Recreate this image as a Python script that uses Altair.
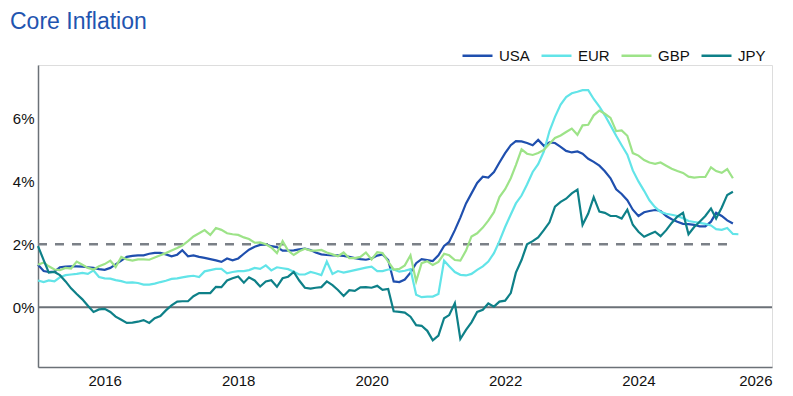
import altair as alt
import pandas as pd

# ---------------- data (monthly, starting Jan 2015) ----------------
start_month = "2015-01-01"
series_names = ["USA", "EUR", "GBP", "JPY"]
series_colors = ["#1f4fae", "#62e4e8", "#9de388", "#0e8088"]

usa = [1.35, 1.15, 1.12, 1.13, 1.27, 1.29, 1.30, 1.30, 1.29, 1.27, 1.25, 1.21,
       1.19, 1.25, 1.36, 1.48, 1.60, 1.63, 1.65, 1.65, 1.70, 1.73, 1.73, 1.68,
       1.62, 1.67, 1.81, 1.62, 1.65, 1.60, 1.57, 1.53, 1.49, 1.44, 1.55, 1.49,
       1.55, 1.70, 1.83, 1.92, 1.98, 2.00, 1.94, 1.91, 1.80, 1.80, 1.81, 1.84,
       1.86, 1.82, 1.74, 1.68, 1.66, 1.65, 1.65, 1.63, 1.60, 1.56, 1.53, 1.51,
       1.55, 1.64, 1.68, 1.50, 0.82, 0.80, 0.88, 1.10, 1.40, 1.53, 1.50, 1.47,
       1.65, 1.95, 2.08, 2.45, 2.85, 3.30, 3.62, 3.95, 4.15, 4.12, 4.30, 4.60,
       4.90, 5.15, 5.28, 5.27, 5.22, 5.15, 5.32, 5.13, 5.24, 5.22, 5.10, 4.97,
       4.92, 4.95, 4.88, 4.72, 4.62, 4.50, 4.32, 4.10, 3.75, 3.60, 3.40, 3.10,
       2.90, 3.02, 3.06, 3.09, 3.06, 2.90, 2.80, 2.72, 2.65, 2.64, 2.62, 2.57,
       2.57, 2.72, 3.00, 2.90, 2.76, 2.66]

eur = [0.85, 0.80, 0.85, 0.82, 0.95, 1.02, 1.04, 1.06, 1.09, 1.06, 1.17, 0.96,
       0.92, 0.91, 0.86, 0.83, 0.78, 0.79, 0.77, 0.72, 0.72, 0.75, 0.80, 0.84,
       0.90, 0.92, 0.95, 0.98, 1.00, 0.96, 1.14, 1.18, 1.22, 1.22, 1.08, 1.12,
       1.15, 1.15, 1.18, 1.25, 1.22, 1.33, 1.17, 1.27, 1.24, 1.21, 1.13, 1.04,
       1.04, 1.12, 1.08, 1.02, 1.45, 1.06, 1.15, 1.10, 1.14, 1.18, 1.22, 1.26,
       1.29, 1.15, 1.15, 1.20, 1.20, 1.13, 1.16, 1.21, 0.40, 0.32, 0.34, 0.34,
       0.42, 1.48, 1.30, 1.12, 1.03, 1.01, 1.06, 1.19, 1.30, 1.45, 1.72, 2.10,
       2.55, 2.95, 3.30, 3.55, 3.90, 4.30, 4.55, 4.95, 5.60, 6.05, 6.44, 6.68,
       6.80, 6.85, 6.90, 6.90, 6.62, 6.38, 6.10, 5.78, 5.45, 5.15, 4.85, 4.35,
       4.00, 3.70, 3.40, 3.18, 3.03, 2.97, 2.94, 2.90, 2.83, 2.74, 2.71, 2.68,
       2.65, 2.60, 2.48, 2.46, 2.52, 2.33, 2.32]

gbp = [1.35, 1.42, 1.30, 1.20, 1.18, 1.25, 1.23, 1.45, 1.35, 1.25, 1.20, 1.30,
       1.37, 1.48, 1.28, 1.60, 1.52, 1.48, 1.52, 1.52, 1.51, 1.58, 1.65, 1.72,
       1.80, 1.88, 1.96, 2.10, 2.25, 2.35, 2.45, 2.30, 2.52, 2.46, 2.35, 2.32,
       2.30, 2.22, 2.17, 2.05, 2.06, 2.00, 1.90, 1.72, 2.10, 1.80, 1.66, 1.78,
       1.86, 1.80, 1.80, 1.82, 1.74, 1.68, 1.62, 1.74, 1.56, 1.56, 1.60, 1.74,
       1.52, 1.75, 1.72, 1.45, 1.20, 1.22, 1.33, 1.65, 0.82, 1.40, 1.46, 1.34,
       1.44, 1.70, 1.65, 1.50, 1.48, 1.80, 2.25, 2.35, 2.53, 2.75, 3.02, 3.50,
       3.75, 4.10, 4.52, 5.02, 4.88, 4.84, 4.90, 5.00, 5.20, 5.38, 5.46, 5.57,
       5.68, 5.48, 5.78, 5.80, 6.10, 6.25, 6.15, 6.02, 5.60, 5.62, 5.45, 4.90,
       4.82, 4.68, 4.60, 4.56, 4.60, 4.50, 4.40, 4.33, 4.27, 4.15, 4.12, 4.14,
       4.14, 4.45, 4.33, 4.27, 4.39, 4.10]

jpy = [1.94, 1.50, 1.10, 1.12, 1.02, 0.82, 0.60, 0.42, 0.25, 0.05, -0.15, -0.07,
       -0.05, -0.15, -0.30, -0.40, -0.50, -0.49, -0.46, -0.41, -0.50, -0.35, -0.28, -0.10,
       0.06, 0.18, 0.19, 0.19, 0.35, 0.45, 0.45, 0.45, 0.65, 0.64, 0.85, 0.92,
       0.98, 0.78, 0.95, 0.85, 0.66, 0.82, 0.86, 0.65, 0.92, 0.97, 1.12, 0.85,
       0.62, 0.59, 0.62, 0.64, 0.82, 0.70, 0.55, 0.36, 0.54, 0.52, 0.63, 0.64,
       0.62, 0.68, 0.55, 0.58, -0.13, -0.15, -0.17, -0.30, -0.57, -0.59, -0.75, -1.05,
       -0.90, -0.35, -0.25, 0.13, -1.01, -0.72, -0.48, -0.15, -0.08, 0.12, 0.02, 0.18,
       0.21, 0.45, 1.10, 1.50, 2.00, 2.10, 2.22, 2.45, 2.70, 3.20, 3.35, 3.45,
       3.62, 3.74, 2.62, 2.98, 3.50, 3.04, 3.00, 2.90, 2.90, 2.82, 3.10, 2.62,
       2.40, 2.24, 2.32, 2.40, 2.26, 2.45, 2.68, 2.88, 3.00, 2.32, 2.55, 2.72,
       2.90, 3.14, 2.82, 3.17, 3.57, 3.67]

target_value = 2.0
target_start = "2015-01-01"
target_end = "2025-06-01"
year_ticks = [2016, 2018, 2020, 2022, 2024, 2026]
y_ticks = [0, 2, 4, 6]
title_text = "Core Inflation"

# ---------------- build table ----------------
frames = []
for name, vals in zip(series_names, [usa, eur, gbp, jpy]):
    dates = pd.date_range(start_month, periods=len(vals), freq="MS")
    frames.append(pd.DataFrame({"date": dates.strftime("%Y-%m-%dT00:00:00"),
                                "value": vals, "series": name}))
df = pd.concat(frames, ignore_index=True)

FONT = "Liberation Sans"
AXIS_GRAY = "#6b7177"

x_scale = alt.Scale(domain=[alt.DateTime(year=2015, month=1, date=1),
                            alt.DateTime(year=2026, month=1, date=1)])
y_scale = alt.Scale(domain=[-1.9, 7.7], nice=False, zero=False)

x_axis = alt.Axis(values=[alt.DateTime(year=y, month=1, date=1) for y in year_ticks],
                  format="%Y", title=None, grid=False, ticks=False,
                  domainColor=AXIS_GRAY, domainWidth=1.5, labelFontSize=15,
                  labelColor="#111111", labelPadding=6, labelFont=FONT,
                  labelOverlap=False)
y_axis = alt.Axis(values=y_ticks, labelExpr="datum.value + '%'", title=None,
                  grid=False, ticks=False, domainColor=AXIS_GRAY, domainWidth=1.5,
                  labelFontSize=15, labelColor="#111111", labelPadding=4,
                  labelFont=FONT)

zero_df = pd.DataFrame({"value": [0.0]})
target_df = pd.DataFrame({"date": [target_start + "T00:00:00"],
                          "date_end": [target_end + "T00:00:00"],
                          "value": [target_value]})
title_df = pd.DataFrame({"t": [title_text]})

zero_rule = alt.Chart(zero_df).mark_rule(color=AXIS_GRAY, strokeWidth=2).encode(
    y=alt.Y("value:Q", scale=y_scale, axis=y_axis))

target_rule = alt.Chart(target_df).mark_rule(
    color="#7b8087", strokeWidth=2.5, strokeDash=[9, 8]).encode(
    x=alt.X("date:T", scale=x_scale, axis=x_axis),
    x2="date_end:T",
    y=alt.Y("value:Q", scale=y_scale, axis=y_axis))

lines = alt.Chart(df).mark_line(strokeWidth=2.2).encode(
    x=alt.X("date:T", scale=x_scale, axis=x_axis),
    y=alt.Y("value:Q", scale=y_scale, axis=y_axis),
    color=alt.Color("series:N",
                    scale=alt.Scale(domain=series_names, range=series_colors),
                    sort=series_names,
                    legend=alt.Legend(orient="none", direction="horizontal",
                                      legendX=423, legendY=-26, title=None,
                                      symbolType="stroke", symbolSize=900,
                                      symbolStrokeWidth=2.5, labelFontSize=15,
                                      labelFont=FONT, labelColor="#111111",
                                      labelOffset=5, columnPadding=6)),
)

title = alt.Chart(title_df).mark_text(
    align="left", baseline="alphabetic", fontSize=23, font=FONT,
    color="#1f55b0").encode(text="t:N", x=alt.value(-28), y=alt.value(-36))

chart = alt.layer(zero_rule, target_rule, lines, title).properties(
    width=734, height=302,
    padding={"left": 30, "top": 57, "right": 13, "bottom": 28},
    autosize=alt.AutoSizeParams(type="none"),
).configure_view(stroke=None).configure(background="white")

chart.save("out.html", embed_options={"renderer": "svg", "actions": False})
